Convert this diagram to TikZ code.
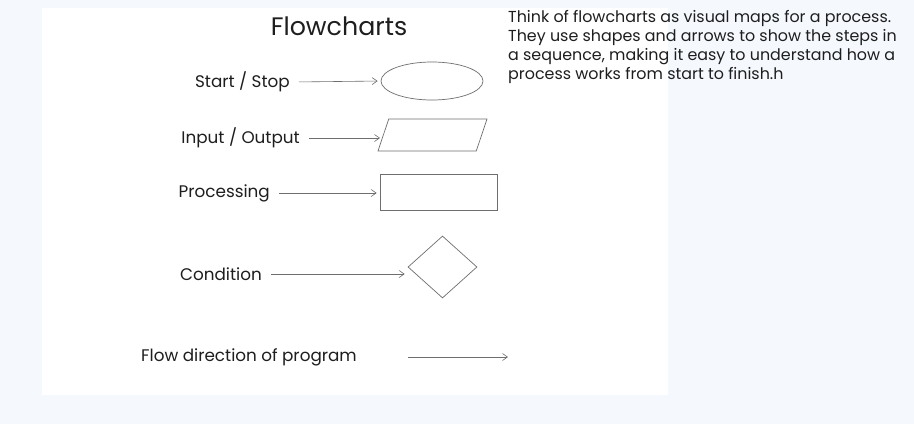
\documentclass[tikz,border=0pt]{standalone}
\usepackage{fontspec}
\setmainfont{Poppins}
\usetikzlibrary{positioning, arrows.meta, shapes.geometric}
\definecolor{canvas}{HTML}{F5F9FE}
\definecolor{ink}{HTML}{1E1E1E}
\definecolor{stroke}{HTML}{6E6E6E}
\tikzset{%
  every symbol/.style={
    draw=stroke,
    line width=0.7pt,
    inner sep=0pt
  },
  every caption/.style={
    text=ink,
    inner sep=4pt,
    font=\fontsize{16.8}{20}\selectfont
  }
}
\begin{document}
\begin{tikzpicture}[x=1pt,y=-1pt,>={Straight Barb[length=5pt,width=7pt]},flow/.style={->, draw=stroke, line width=0.6pt, shorten <=5pt, shorten >=3pt}]
		%% canvas
		\fill[canvas] (0,0) rectangle (914,424);
		\fill[white] (42,8) rectangle (668,395);
		\useasboundingbox (0,0) rectangle (914,424);
		%% title and description
		\node[every caption, font=\fontsize{25.3}{28}\selectfont] (title) at (339,26) {Flowcharts};
		\node[every caption, anchor=north west, align=left, font=\fontsize{15.9}{19}\selectfont] (blurb) at (504,6) {Think of flowcharts as visual maps for a process.\\They use shapes and arrows to show the steps in\\a sequence, making it easy to understand how a\\process works from start to finish.h};
		%% symbols
		\node[every symbol, ellipse, minimum width=102pt, minimum height=38pt] (start) at (432,81) {};
		\node[every symbol, trapezium, trapezium stretches=true, inner sep=2pt, trapezium left angle=83, trapezium right angle=97, minimum width=109pt, minimum height=32pt] (io) at (432.5,135) {};
		\node[every symbol, rectangle, minimum width=117pt, minimum height=36pt] (proc) at (438.5,192) {};
		\node[every symbol, diamond, minimum width=69pt, minimum height=62pt] (cond) at (442.5,267) {};
		%% captions
		\node[every caption, anchor=east] (startlbl) at (294,82) {Start / Stop};
		\node[every caption, anchor=east] (iolbl) at (304,138) {Input / Output};
		\node[every caption, anchor=east] (proclbl) at (274,193) {Processing};
		\node[every caption, anchor=east] (condlbl) at (266,274) {Condition};
		\node[every caption, anchor=east] (flowlbl) at (361,357) {Flow direction of program};
		%% connections
		\draw[flow] (startlbl.east) -- (start.west);
		\draw[flow] (iolbl.east) -- (iolbl.east -| io.west);
		\draw[flow] (proclbl.east) -- (proclbl.east -| proc.west);
		\draw[flow] (condlbl.east) -- (condlbl.east -| cond.west);
		% flow direction
		\coordinate (flowa) at (408,357);
		\coordinate (flowb) at (508,357);
		\draw[flow, shorten <=0pt, shorten >=0pt] (flowa) -- (flowb);
	\end{tikzpicture}
\end{document}
